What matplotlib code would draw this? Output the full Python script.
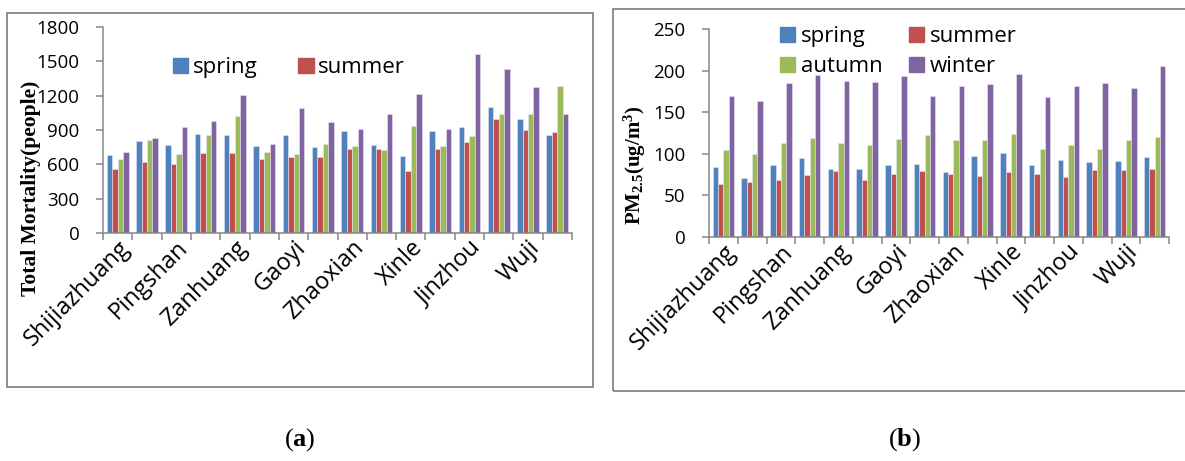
import numpy as np
import matplotlib.pyplot as plt
from matplotlib.patches import Rectangle, Patch

plt.rcParams['font.family'] = ['Open Sans', 'DejaVu Sans']
plt.rcParams['mathtext.fontset'] = 'custom'
plt.rcParams['mathtext.rm'] = 'Liberation Serif:bold'
plt.rcParams['mathtext.bf'] = 'Liberation Serif:bold'

# only every other county is printed on the category axis
counties = ["Shijiazhuang", "", "Pingshan", "", "Zanhuang", "", "Gaoyi", "",
            "Zhaoxian", "", "Xinle", "", "Jinzhou", "", "Wuji", ""]
seasons = ["spring", "summer", "autumn", "winter"]
colors = ["#4F81BD", "#C0504D", "#9BBB59", "#8064A2"]

# (a) total mortality (people)
mort_spring = [679, 801, 769, 868, 853, 758, 856, 752, 893, 769, 676, 893, 925, 1105, 993, 857]
mort_summer = [560, 624, 607, 700, 700, 650, 665, 668, 736, 733, 542, 736, 798, 993, 903, 880]
mort_autumn = [650, 813, 688, 859, 1025, 705, 688, 778, 763, 727, 938, 763, 848, 1039, 1039, 1287]
mort_winter = [708, 830, 923, 981, 1208, 775, 1090, 967, 908, 1036, 1218, 908, 1560, 1432, 1272, 1039]
mort_ticks = [0, 300, 600, 900, 1200, 1500, 1800]

# (b) PM2.5 concentration (ug/m3)
pm_spring = [84, 71, 87, 95, 82, 82, 86, 88, 78, 97, 101, 86, 92, 90, 91, 96]
pm_summer = [64, 66, 69, 74, 79, 68, 76, 79, 76, 73, 78, 76, 72, 80, 81, 82]
pm_autumn = [104, 100, 113, 119, 113, 111, 118, 122, 117, 117, 124, 106, 111, 106, 116, 120]
pm_winter = [170, 163, 185, 195, 187, 186, 193, 170, 181, 184, 196, 168, 182, 185, 179, 205]
pm_ticks = [0, 50, 100, 150, 200, 250]

GREY = "#868686"
W, H = 1185, 461


def px_box(x0, y0, x1, y1):
    """pixel box (top-left origin) -> figure fraction [l, b, w, h]"""
    return [x0 / W, 1 - y1 / H, (x1 - x0) / W, (y1 - y0) / H]


def draw_bars(ax, series, ticks):
    x = np.arange(len(counties))
    bw = 0.185
    for k, (vals, c) in enumerate(zip(series, colors)):
        ax.bar(x + (k - 1.5) * bw, vals, width=bw, color=c,
               edgecolor="#e8e4f0", linewidth=0.4, zorder=2)
    ax.set_xlim(-0.5, len(counties) - 0.5)
    ax.set_ylim(ticks[0], ticks[-1])
    ax.set_yticks(ticks)
    ax.set_xticks(x)
    ax.set_xticklabels(counties, rotation=45, ha="right", va="top",
                       rotation_mode="anchor", fontsize=17)
    ax.set_xticks(np.arange(-0.5, len(counties)), minor=True)
    ax.tick_params(axis="x", which="major", length=0, pad=2)
    ax.tick_params(axis="x", which="minor", length=5, width=1.1, color=GREY)
    ax.tick_params(axis="y", length=5, width=1.1, color=GREY, pad=12, labelsize=13.5)
    for s in ["top", "right"]:
        ax.spines[s].set_visible(False)
    for s in ["left", "bottom"]:
        ax.spines[s].set_color(GREY)
        ax.spines[s].set_linewidth(1.1)
    ax.patch.set_alpha(0)


fig = plt.figure(figsize=(W / 100, H / 100), dpi=100)

# outer frames around each panel
fig.patches.append(Rectangle((7 / W, 1 - 387 / H), 586 / W, 374 / H,
                             transform=fig.transFigure, fill=False,
                             edgecolor=GREY, linewidth=1.3))
fig.patches.append(Rectangle((613 / W, 1 - 391 / H), 600 / W, 382 / H,
                             transform=fig.transFigure, fill=False,
                             edgecolor=GREY, linewidth=1.3))

handles = [Patch(color=c) for c in colors]

ax1 = fig.add_axes(px_box(103, 27, 572, 233))
draw_bars(ax1, [mort_spring, mort_summer, mort_autumn, mort_winter], mort_ticks)
ax1.legend(handles[:2], seasons[:2], loc="upper left",
           bbox_to_anchor=(173 / W, 1 - 57 / H), bbox_transform=fig.transFigure,
           ncol=2, frameon=False, fontsize=16, borderpad=0, borderaxespad=0,
           handlelength=0.68, handleheight=0.68, handletextpad=0.2,
           columnspacing=1.85)
fig.text(31 / W, 1 - 188 / H, "Total Mortality(people)", rotation=90,
         ha="center", va="center", fontsize=15.5, fontweight="bold",
         family="Liberation Serif")

ax2 = fig.add_axes(px_box(709, 29, 1169, 237))
draw_bars(ax2, [pm_spring, pm_summer, pm_autumn, pm_winter], pm_ticks)
# two columns filled row by row: spring, summer / autumn, winter
order = [0, 2, 1, 3]
ax2.legend([handles[i] for i in order], [seasons[i] for i in order],
           loc="upper left",
           bbox_to_anchor=(780 / W, 1 - 26 / H), bbox_transform=fig.transFigure,
           ncol=2, frameon=False, fontsize=16, borderpad=0, borderaxespad=0,
           handlelength=0.68, handleheight=0.68, handletextpad=0.25,
           columnspacing=1.2, labelspacing=0.42)
fig.text(635 / W, 1 - 165 / H, r"$\mathbf{PM_{2.5}(ug/m^3)}$", rotation=90,
         ha="center", va="center", fontsize=15)

# panel captions
fig.text(300 / W, 1 - 440 / H, r"($\mathbf{a}$)", ha="center", va="center",
         fontsize=19, family="Liberation Serif")
fig.text(905 / W, 1 - 440 / H, r"($\mathbf{b}$)", ha="center", va="center",
         fontsize=19, family="Liberation Serif")

fig.savefig("out.png", dpi=100)
